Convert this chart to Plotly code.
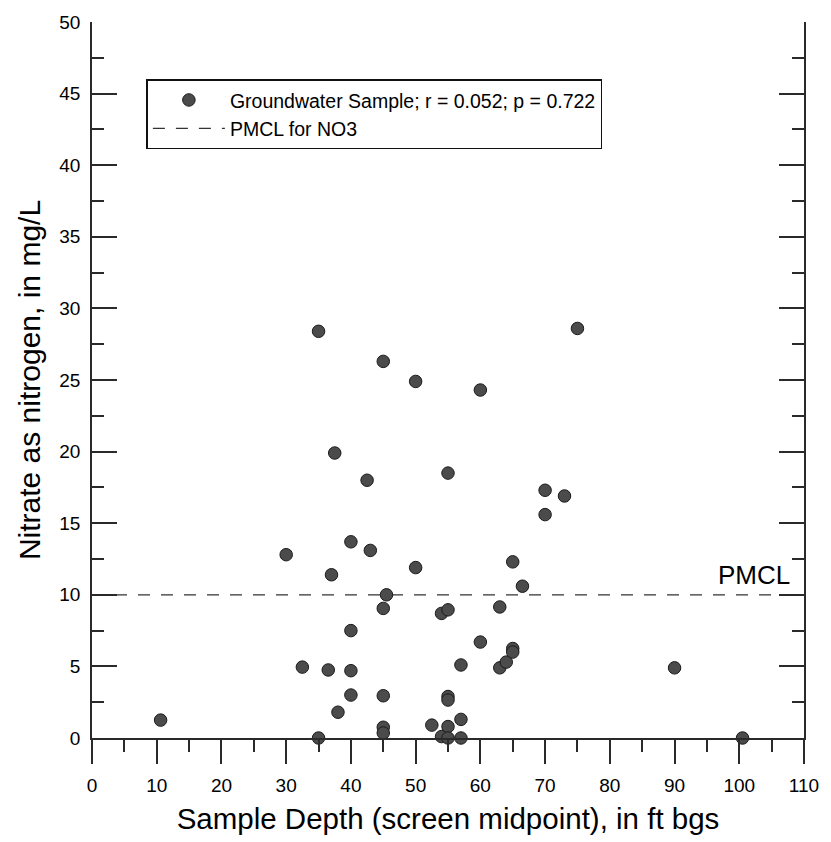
import plotly.graph_objects as go

# Sample depth (screen midpoint), ft bgs
depth = [10.6, 30, 32.5, 35, 35, 36.5, 37, 37.5, 38, 40,
         40, 40, 40, 42.5, 43, 45, 45, 45, 45, 45,
         45.5, 50, 50, 52.5, 54, 54, 55, 55, 55, 55,
         55, 55, 57, 57, 57, 60, 60, 63, 63, 64,
         65, 65, 65, 66.5, 70, 70, 73, 75, 90, 100.5]
# Nitrate as nitrogen, mg/L
nitrate = [1.25, 12.8, 4.95, 28.4, 0.0, 4.75, 11.4, 19.9, 1.8, 13.7,
           7.5, 4.7, 3.0, 18.0, 13.1, 26.3, 9.05, 2.95, 0.75, 0.35,
           10.0, 24.9, 11.9, 0.9, 8.7, 0.1, 18.5, 8.95, 2.9, 2.65,
           0.8, 0.0, 5.1, 1.3, 0.0, 24.3, 6.7, 9.15, 4.9, 5.3,
           12.3, 6.25, 6.0, 10.6, 17.3, 15.6, 16.9, 28.6, 4.9, 0.0]

pmcl_x = [0, 110]
pmcl_y = [10, 10]

x_range = [0, 110]
y_range = [0, 50]

FONT = "Liberation Sans, Arial, sans-serif"
AX = "#2a2a2a"

fig = go.Figure()
fig.add_trace(go.Scatter(
    x=pmcl_x, y=pmcl_y, mode="lines", name="PMCL for NO3",
    line=dict(color="#333333", width=1.3, dash="12px,11px"),
    legendrank=2, cliponaxis=False,
))
fig.add_trace(go.Scatter(
    x=depth, y=nitrate, mode="markers",
    name="Groundwater Sample; r = 0.052; p = 0.722",
    marker=dict(size=12.5, color="#4b4b4b", line=dict(color="#1a1a1a", width=1)),
    legendrank=1, cliponaxis=False,
))

fig.add_annotation(x=108.2, y=10, xref="x", yref="y", text="PMCL",
                   showarrow=False, xanchor="right", yanchor="bottom", yshift=3,
                   font=dict(family=FONT, size=26, color="black"))

fig.update_layout(
    width=831, height=842,
    margin=dict(l=92, r=19, t=17, b=104),
    paper_bgcolor="white", plot_bgcolor="white",
    font=dict(family=FONT, color="black"),
    showlegend=True,
    legend=dict(x=0.0764, y=0.92, xanchor="left", yanchor="top",
                bordercolor="#111111", borderwidth=1.5, bgcolor="white",
                font=dict(family=FONT, size=19.5, color="black"),
                itemwidth=72, tracegroupgap=0),
    xaxis=dict(range=x_range, dtick=10, tick0=0, ticks="outside", ticklen=24,
               tickwidth=1.5, tickcolor=AX, showline=True, linecolor=AX, linewidth=1.5,
               showgrid=False, zeroline=False, ticklabelstandoff=5,
               minor=dict(dtick=5, tick0=0, ticks="outside", ticklen=12, tickwidth=1.5,
                          tickcolor=AX, showgrid=False),
               tickfont=dict(family=FONT, size=19, color="black"),
               title=dict(text="Sample Depth (screen midpoint), in ft bgs",
                          font=dict(family=FONT, size=29.5, color="black"), standoff=14)),
    xaxis2=dict(range=x_range, overlaying="x", side="top", anchor="y", matches="x",
                dtick=10, tick0=0, ticks="inside", ticklen=25, tickwidth=1.5, tickcolor=AX,
                showline=True, linecolor=AX, linewidth=1.5, showticklabels=False,
                showgrid=False, zeroline=False,
                minor=dict(dtick=5, tick0=0, ticks="inside", ticklen=12, tickwidth=1.5,
                           tickcolor=AX, showgrid=False)),
    yaxis=dict(range=y_range, dtick=5, tick0=0, ticks="inside", ticklen=25,
               tickwidth=1.5, tickcolor=AX, showline=True, linecolor=AX, linewidth=1.5,
               mirror="allticks", showgrid=False, zeroline=False, ticklabelstandoff=6,
               minor=dict(dtick=2.5, tick0=0, ticks="inside", ticklen=12, tickwidth=1.5,
                          tickcolor=AX, showgrid=False),
               tickfont=dict(family=FONT, size=19, color="black"),
               title=dict(text="Nitrate as nitrogen, in mg/L",
                          font=dict(family=FONT, size=30, color="black"), standoff=10)),
)

fig.write_html("out.html")
